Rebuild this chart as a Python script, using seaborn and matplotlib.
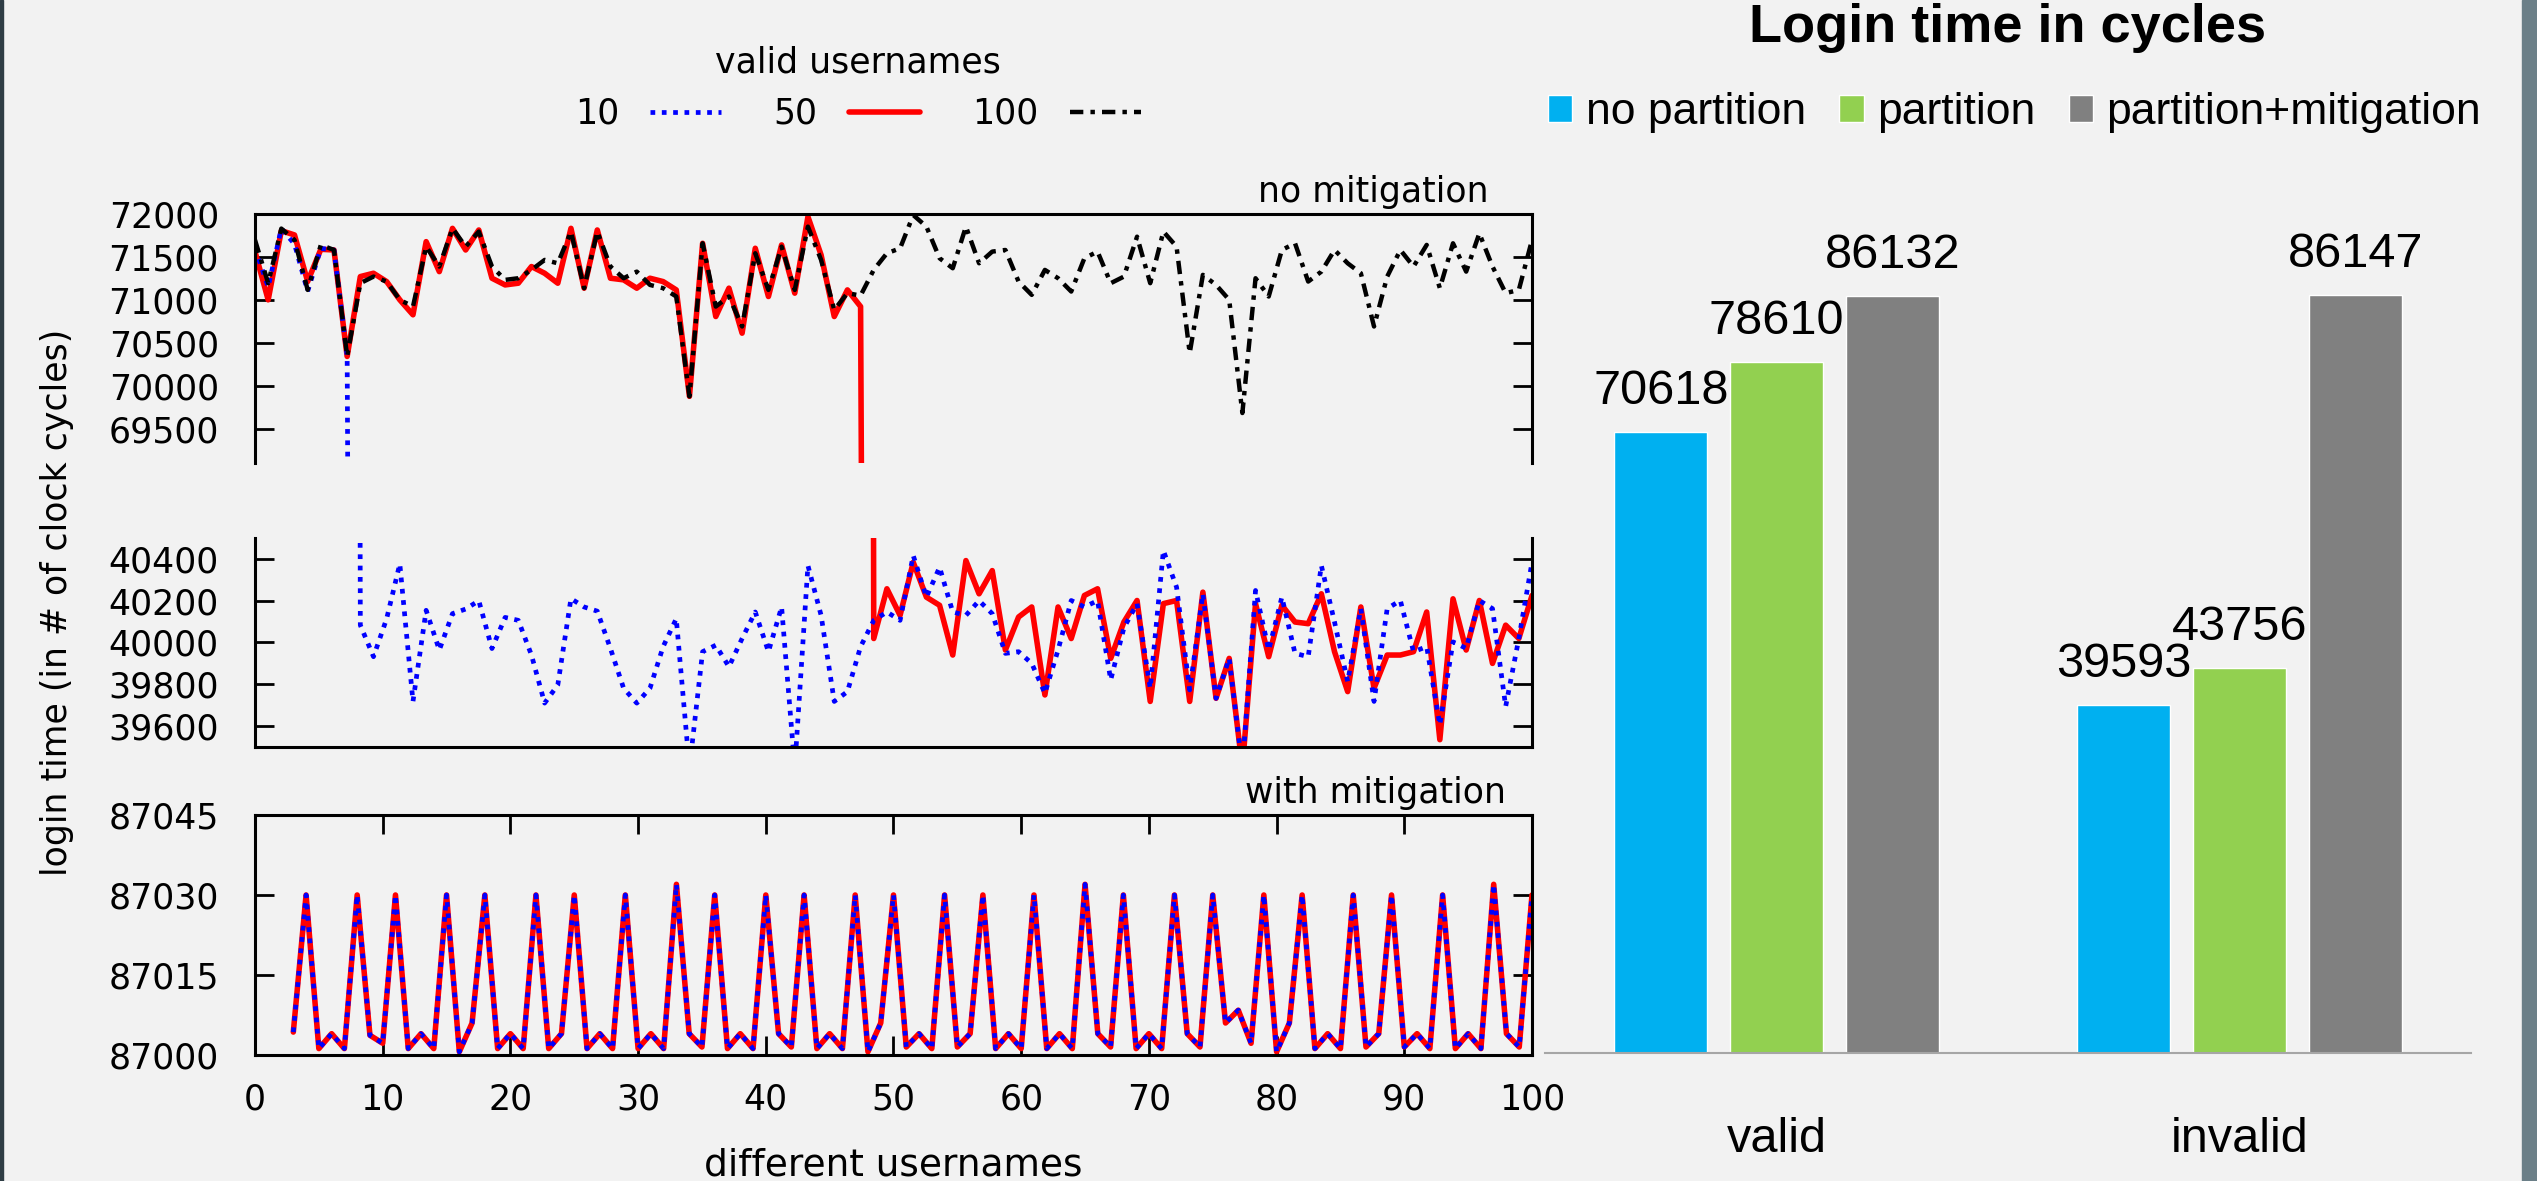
"""Login time per username (broken axis, gnuplot style) next to the login time bar chart."""
import numpy as np
import pandas as pd
import matplotlib
matplotlib.use('Agg')
import matplotlib.pyplot as plt
from matplotlib.patches import Rectangle
import seaborn as sns

# %%
# login time per username, no mitigation (98 usernames spread over 0..100)
# 10 valid usernames
blue_vals = [71600, 71150, 71830, 71650, 71100, 71600, 71580, 70341, 40083, 39932,
             40114, 40376, 39718, 40154, 39964, 40138, 40160, 40200, 39971, 40120,
             40106, 39940, 39710, 39797, 40210, 40170, 40150, 39971, 39781, 39710,
             39781, 39980, 40114, 39400, 39956, 39987, 39884, 40019, 40146, 39956,
             40170, 39400, 40368, 40130, 39718, 39765, 39980, 40106, 40146, 40106,
             40416, 40217, 40360, 40146, 40130, 40200, 40138, 39948, 39956, 39900,
             39757, 39964, 40201, 40170, 40200, 39821, 40070, 40186, 39781, 40440,
             40265, 39773, 40233, 39733, 39924, 39400, 40249, 39964, 40217, 39948,
             39932, 40368, 40098, 39813, 40162, 39718, 40162, 40201, 39956, 39980,
             39606, 40003, 39972, 40201, 40162, 39694, 40019, 40384]
# 50 valid usernames
red_vals = [71562, 71000, 71806, 71756, 71213, 71589, 71581, 70341, 71271, 71310,
            71213, 71000, 70826, 71678, 71329, 71833, 71581, 71814, 71252, 71174,
            71194, 71388, 71310, 71194, 71833, 71136, 71814, 71252, 71233, 71136,
            71252, 71213, 71116, 69876, 71659, 70806, 71136, 70612, 71601, 71039,
            71640, 71078, 71969, 71523, 70806, 71116, 70922, 40019, 40257, 40130,
            40384, 40217, 40178, 39940, 40392, 40233, 40344, 39964, 40122, 40170,
            39749, 40170, 40019, 40225, 40257, 39924, 40098, 40201, 39718, 40186,
            40201, 39718, 40241, 39733, 39924, 39400, 40186, 39932, 40178, 40098,
            40090, 40233, 39956, 39765, 40170, 39781, 39940, 39940, 39956, 40146,
            39535, 40209, 39964, 40201, 39900, 40083, 40019, 40225]
# 100 valid usernames
black_vals = [71698, 71194, 71830, 71698, 71116, 71640, 71581, 70341, 71194, 71271,
              71213, 71000, 70922, 71620, 71388, 71833, 71620, 71795, 71388, 71233,
              71252, 71349, 71465, 71426, 71795, 71136, 71795, 71388, 71252, 71329,
              71174, 71136, 71039, 69876, 71659, 70922, 71039, 70690, 71543, 71116,
              71620, 71116, 71853, 71465, 70884, 71078, 71050, 71350, 71543, 71600,
              71988, 71853, 71485, 71368, 71853, 71426, 71562, 71581, 71213, 71058,
              71349, 71252, 71097, 71485, 71562, 71194, 71271, 71736, 71194, 71795,
              71620, 70380, 71291, 71174, 71000, 69682, 71252, 71039, 71581, 71659,
              71213, 71329, 71581, 71426, 71310, 70690, 71271, 71581, 71388, 71640,
              71136, 71659, 71329, 71775, 71388, 71078, 71116, 71698]

# login time with mitigation, usernames 3..100 (same for 10 and 50 valid)
mit_first = 3
mit_vals = [87004.3, 87030, 87001.2, 87004, 87001.2, 87030, 87003.7, 87002.2, 87030, 87001.2,
            87004, 87001.2, 87030, 87000.6, 87006, 87030, 87001.2, 87004, 87001.2, 87030,
            87001.2, 87004, 87030, 87001.2, 87004, 87001.2, 87030, 87001.2, 87004, 87001.2,
            87032, 87004, 87001.5, 87030, 87001.2, 87004, 87001.2, 87030, 87004, 87001.5,
            87030, 87001.2, 87004, 87001.2, 87030, 87000.6, 87006, 87030, 87001.5, 87004,
            87001.2, 87030, 87001.5, 87004, 87030, 87001.2, 87004, 87001.2, 87030, 87001.2,
            87004, 87001.2, 87032, 87004, 87001.5, 87030, 87001.2, 87004, 87001.2, 87030,
            87004, 87001.5, 87030, 87006, 87008.4, 87002.2, 87030, 87000.6, 87006, 87030,
            87001.2, 87004, 87001.2, 87030, 87001.5, 87004, 87030, 87001.5, 87004, 87001.2,
            87030, 87001.2, 87004, 87001.2, 87032, 87004, 87001.5, 87030]

# bar chart
bar_groups = ['valid', 'invalid']
bar_configs = ['no partition', 'partition', 'partition+mitigation']
bar_valid = [70618, 78610, 86132]
bar_invalid = [39593, 43756, 86147]
bar_colors = ['#00b0f0', '#92d050', '#808080']

# %%
sns.set_theme(style='ticks')
plt.rcParams['font.family'] = ['DejaVu Sans']
for key in ('text.color', 'axes.labelcolor', 'xtick.color', 'ytick.color', 'axes.edgecolor'):
    plt.rcParams[key] = 'black'
bg = '#f2f2f2'
W, H = 2537, 1181

fig = plt.figure(figsize=(W / 100, H / 100), dpi=100, facecolor=bg)
ax1 = fig.add_axes([255 / W, 1 - 463 / H, 1277 / W, 249 / H])
ax2 = fig.add_axes([255 / W, 1 - 747 / H, 1277 / W, 209 / H])
ax3 = fig.add_axes([255 / W, 1 - 1055 / H, 1277 / W, 240 / H])
axb = fig.add_axes([1545 / W, 1 - 1053 / H, 926 / W, 853 / H])

x_nomit = np.arange(len(black_vals)) * 100 / (len(black_vals) - 1)
x_mit = np.arange(mit_first, mit_first + len(mit_vals))

dotted = (0, (1, 1.4))
dashdot = (0, (3, 1.6, 1, 1.6))
series = [('50', red_vals, '#ff0000', '-', 4.0),
          ('10', blue_vals, '#0000ff', dotted, 3.4),
          ('100', black_vals, 'black', dashdot, 3.2)]

legend_lines = {}
for ax in (ax1, ax2):
    for label, vals, color, ls, lw in series:
        sns.lineplot(x=x_nomit, y=vals, ax=ax, color=color, linestyle=ls, linewidth=lw,
                     estimator=None, sort=False, legend=False)
        if ax is ax1:
            legend_lines[label] = ax.lines[-1]

for label, vals, color, ls, lw in series[:2]:
    sns.lineplot(x=x_mit, y=mit_vals, ax=ax3, color=color, linestyle=ls, linewidth=lw,
                 estimator=None, sort=False, legend=False)

for ax in (ax1, ax2, ax3):
    ax.set_facecolor(bg)
    ax.set_xlim(0, 100)
    ax.set_xlabel('')
    ax.set_ylabel('')
    for s in ax.spines.values():
        s.set_linewidth(2.2)
        s.set_color('black')
    ax.ticklabel_format(axis='y', useOffset=False, style='plain')
    ax.tick_params(axis='y', direction='in', length=14, width=2, left=True, right=True,
                   labelsize=25, pad=26, colors='black')

ax1.spines['bottom'].set_visible(False)
ax2.spines['top'].set_visible(False)
ax1.set_xticks([])
ax2.set_xticks([])

ax1.set_ylim(69100, 72000)
ax1.set_yticks(range(69500, 72001, 500))
ax2.set_ylim(39500, 40500)
ax2.set_yticks(range(39600, 40401, 200))
ax3.set_ylim(87000, 87045)
ax3.set_yticks([87000, 87015, 87030, 87045])
ax3.set_xticks(range(0, 101, 10))
ax3.tick_params(axis='x', direction='in', length=14, width=2, top=True, bottom=True,
                labelsize=25, pad=20)
ax3.set_xlabel('different usernames', fontsize=27, labelpad=22)

ax1.text(0.966, 1.09, 'no mitigation', transform=ax1.transAxes, ha='right', va='center', fontsize=25)
ax3.text(0.98, 1.092, 'with mitigation', transform=ax3.transAxes, ha='right', va='center', fontsize=25)
fig.text(57 / W, 1 - 602 / H, 'login time (in # of clock cycles)', rotation=90,
         ha='center', va='center', fontsize=25)

order = ['10', '50', '100']
ax1.legend([legend_lines[k] for k in order], order, loc='center', bbox_to_anchor=(0.472, 1.506),
           ncol=3, markerfirst=False, frameon=False, title='valid usernames', fontsize=25,
           title_fontsize=25, handlelength=2.05, handletextpad=0.9, columnspacing=1.5)

# %%
# bar chart
bar_df = pd.DataFrame({'login': [g for g in bar_groups for _ in bar_configs],
                       'config': bar_configs * 2,
                       'cycles': bar_valid + bar_invalid})
sns.barplot(data=bar_df, x='login', y='cycles', hue='config', order=bar_groups,
            hue_order=bar_configs, palette=bar_colors, saturation=1, width=0.75, gap=0.2,
            errorbar=None, ax=axb)

arial = ['Liberation Sans', 'DejaVu Sans']
for c in axb.containers:
    axb.bar_label(c, padding=13, fontsize=35, fontfamily=arial)

axb.set_facecolor(bg)
axb.set_xlim(-0.5, 1.5)
axb.set_ylim(0, 97000)
axb.set_yticks([])
axb.set_xlabel('')
axb.set_ylabel('')
for side in ('left', 'top', 'right'):
    axb.spines[side].set_visible(False)
axb.spines['bottom'].set_color('#a6a6a6')
axb.spines['bottom'].set_linewidth(1.5)
axb.tick_params(axis='x', length=0, pad=46, labelsize=35)
for t in axb.get_xticklabels():
    t.set_fontfamily(arial)

sns.move_legend(axb, 'center', bbox_to_anchor=(0.507, 1.102), ncol=3, title=None,
                frameon=False, prop={'family': arial, 'size': 32}, handlelength=0.55,
                handleheight=0.55, handletextpad=0.3, columnspacing=0.75)
axb.text(0.5, 1.2016, 'Login time in cycles', transform=axb.transAxes, ha='center',
         va='center', fontsize=39, fontweight='bold', fontfamily=arial)

# slide frame
fig.patches.append(Rectangle((0, 0), 3 / W, 1, transform=fig.transFigure, color='#2f3d45'))
fig.patches.append(Rectangle((2522 / W, 0), 15 / W, 1, transform=fig.transFigure, color='#6b7f88'))

plt.savefig('out.png', dpi=100, facecolor=bg)
